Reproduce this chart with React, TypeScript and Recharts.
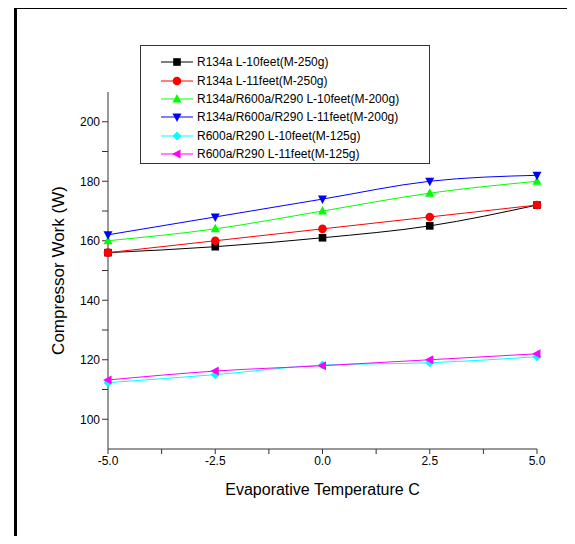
import { Label, Line, LineChart, XAxis, YAxis } from "recharts"

const temps = [-5, -2.5, 0, 2.5, 5]

const r134a10 = [156, 158, 161, 165, 172]
const r134a11 = [156, 160, 164, 168, 172]
const blend10 = [160, 164, 170, 176, 180]
const blend11 = [162, 168, 174, 180, 182]
const hc10 = [112.3, 115, 118.2, 119, 121]
const hc11 = [113.2, 116.2, 118, 120, 122]

const xTicks = [-5, -3.75, -2.5, -1.25, 0, 1.25, 2.5, 3.75, 5]
const yTicks = [100, 110, 120, 130, 140, 150, 160, 170, 180, 190, 200]

type Shape = "square" | "circle" | "up" | "down" | "diamond" | "left"

const series: { key: string; name: string; color: string; shape: Shape; values: number[] }[] = [
  { key: "a", name: "R134a L-10feet(M-250g)", color: "#000000", shape: "square", values: r134a10 },
  { key: "b", name: "R134a L-11feet(M-250g)", color: "#ff0000", shape: "circle", values: r134a11 },
  { key: "c", name: "R134a/R600a/R290 L-10feet(M-200g)", color: "#00ff00", shape: "up", values: blend10 },
  { key: "d", name: "R134a/R600a/R290 L-11feet(M-200g)", color: "#0000ff", shape: "down", values: blend11 },
  { key: "e", name: "R600a/R290 L-10feet(M-125g)", color: "#00ffff", shape: "diamond", values: hc10 },
  { key: "f", name: "R600a/R290 L-11feet(M-125g)", color: "#ff00ff", shape: "left", values: hc11 },
]

const data = temps.map((t, i) => {
  const row: Record<string, number> = { t }
  series.forEach((s) => {
    row[s.key] = s.values[i]
  })
  return row
})

const font = "'Liberation Sans', Arial, sans-serif"

function Marker({ shape, cx, cy, color }: { shape: Shape; cx: number; cy: number; color: string }) {
  const s = 4.5
  switch (shape) {
    case "square":
      return <rect x={cx - 3.8} y={cy - 3.8} width={7.6} height={7.6} fill={color} />
    case "circle":
      return <circle cx={cx} cy={cy} r={4.3} fill={color} />
    case "up":
      return <polygon points={`${cx},${cy - s - 0.5} ${cx - s},${cy + s - 1} ${cx + s},${cy + s - 1}`} fill={color} />
    case "down":
      return <polygon points={`${cx},${cy + s + 0.5} ${cx - s},${cy - s + 1} ${cx + s},${cy - s + 1}`} fill={color} />
    case "diamond":
      return <polygon points={`${cx},${cy - s} ${cx + s},${cy} ${cx},${cy + s} ${cx - s},${cy}`} fill={color} />
    case "left":
      return <polygon points={`${cx - s - 0.5},${cy} ${cx + s - 1},${cy - s} ${cx + s - 1},${cy + s}`} fill={color} />
  }
}

// legend drawn as a plain box over the chart, like the Origin export
function LegendBox() {
  return (
    <div
      style={{
        position: "absolute",
        left: 140,
        top: 45,
        border: "1px solid #333",
        width: 290,
        height: 119,
        boxSizing: "border-box",
        paddingTop: 7,
        background: "#fff",
        fontFamily: font,
        fontSize: 12,
      }}
    >
      {series.map((s) => (
        <div key={s.key} style={{ display: "flex", alignItems: "center", height: 18.4 }}>
          <svg width={56} height={14} style={{ flexShrink: 0 }}>
            <line x1={20} x2={52} y1={7} y2={7} stroke={s.color} strokeWidth={1} />
            <Marker shape={s.shape} cx={36} cy={7} color={s.color} />
          </svg>
          <span style={{ color: "#000", whiteSpace: "nowrap" }}>{s.name}</span>
        </div>
      ))}
    </div>
  )
}

const fmtX = (v: number) => (Number.isInteger(v / 2.5) ? v.toFixed(1) : "")
const fmtY = (v: number) => (v % 20 === 0 ? String(v) : "")

export default function App() {
  return (
    <div style={{ position: "relative", width: 575, height: 544, margin: -8, overflow: "hidden", background: "#fff" }}>
      <div
        style={{
          position: "absolute",
          left: 14,
          top: 6,
          width: 620,
          height: 620,
          border: "3px solid #000",
        }}
      />
      <div style={{ position: "absolute", left: 0, top: 0 }}>
        <LineChart
          width={575}
          height={544}
          data={data}
          margin={{ top: 92, right: 38, bottom: 65, left: 48 }}
          style={{ fontFamily: font }}
        >
          <XAxis
            dataKey="t"
            type="number"
            domain={[-5, 5]}
            ticks={xTicks}
            tickFormatter={fmtX}
            interval={0}
            height={30}
            stroke="#333"
            tickSize={5}
            tick={{ fill: "#000", fontSize: 12 }}
          >
            <Label value="Evaporative Temperature C" position="insideBottom" offset={-16} style={{ fill: "#000", fontSize: 16 }} />
          </XAxis>
          <YAxis
            type="number"
            domain={[90, 210]}
            ticks={yTicks}
            tickFormatter={fmtY}
            interval={0}
            width={60}
            stroke="#333"
            tickSize={6}
            tick={{ fill: "#000", fontSize: 12 }}
          >
            <Label value="Compressor Work (W)" angle={-90} position="insideLeft" offset={10} style={{ fill: "#000", fontSize: 17, textAnchor: "middle" }} />
          </YAxis>
          {series.map((s) => (
            <Line
              key={s.key}
              dataKey={s.key}
              name={s.name}
              type="monotone"
              stroke={s.color}
              strokeWidth={1}
              isAnimationActive={false}
              activeDot={false}
              dot={(p: any) => <Marker key={`${s.key}-${p.index}`} shape={s.shape} cx={p.cx} cy={p.cy} color={s.color} />}
            />
          ))}
        </LineChart>
      </div>
      <LegendBox />
    </div>
  )
}
